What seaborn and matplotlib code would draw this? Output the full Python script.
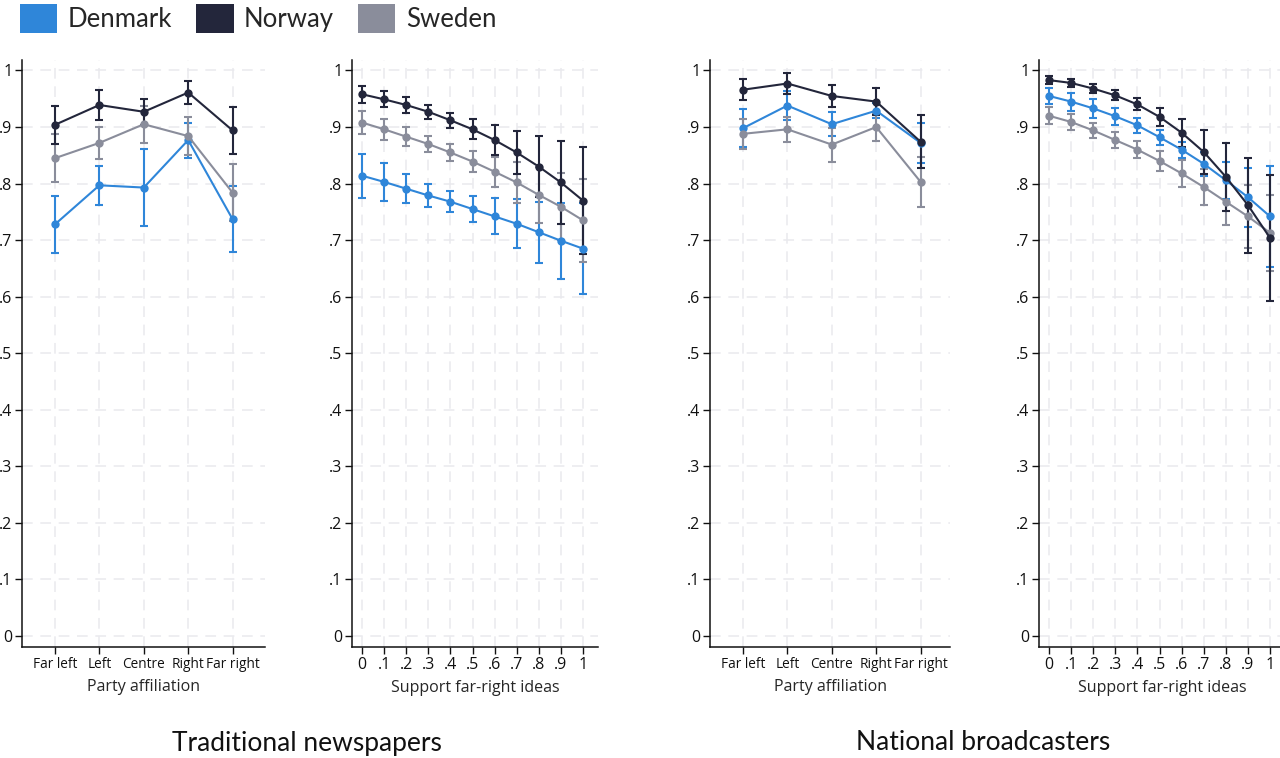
import numpy as np
import pandas as pd
import seaborn as sns
import matplotlib
matplotlib.use("Agg")
import matplotlib.pyplot as plt
from matplotlib.patches import Patch

sns.set_theme(style="white")
plt.rcParams['font.family'] = ['Open Sans', 'DejaVu Sans']

countries = ['Denmark', 'Norway', 'Sweden']
colors = {'Denmark': '#2f86d9', 'Norway': '#23263b', 'Sweden': '#8a8d9b'}

party_labels = ['Far left', 'Left', 'Centre', 'Right', 'Far right']
support_levels = [0, .1, .2, .3, .4, .5, .6, .7, .8, .9, 1]
support_labels = ['0', '.1', '.2', '.3', '.4', '.5', '.6', '.7', '.8', '.9', '1']
y_ticks = [0, .1, .2, .3, .4, .5, .6, .7, .8, .9, 1]
y_labels = ['0', '.1', '.2', '.3', '.4', '.5', '.6', '.7', '.8', '.9', '1']

# traditional newspapers, by party affiliation (mean, half-width of CI)
tn_party_den = [0.728, 0.797, 0.793, 0.877, 0.737]
tn_party_den_ci = [0.050, 0.035, 0.068, 0.031, 0.058]
tn_party_nor = [0.904, 0.939, 0.927, 0.961, 0.894]
tn_party_nor_ci = [0.034, 0.027, 0.023, 0.021, 0.042]
tn_party_swe = [0.845, 0.872, 0.905, 0.884, 0.784]
tn_party_swe_ci = [0.042, 0.028, 0.033, 0.033, 0.050]

# traditional newspapers, by support for far-right ideas
tn_far_den = [0.814, 0.803, 0.791, 0.779, 0.768, 0.755, 0.742, 0.729, 0.714, 0.699, 0.685]
tn_far_den_ci = [0.039, 0.033, 0.026, 0.020, 0.019, 0.023, 0.032, 0.043, 0.054, 0.067, 0.081]
tn_far_nor = [0.958, 0.949, 0.939, 0.927, 0.912, 0.896, 0.877, 0.855, 0.830, 0.802, 0.770]
tn_far_nor_ci = [0.015, 0.014, 0.0135, 0.012, 0.013, 0.018, 0.0265, 0.038, 0.0535, 0.073, 0.0945]
tn_far_swe = [0.908, 0.896, 0.883, 0.870, 0.855, 0.839, 0.821, 0.802, 0.780, 0.759, 0.735]
tn_far_swe_ci = [0.021, 0.0185, 0.0165, 0.015, 0.015, 0.019, 0.0265, 0.036, 0.050, 0.059, 0.0735]

# national broadcasters, by party affiliation
nb_party_den = [0.898, 0.938, 0.905, 0.929, 0.872]
nb_party_den_ci = [0.034, 0.025, 0.021, 0.013, 0.036]
nb_party_nor = [0.966, 0.977, 0.955, 0.945, 0.874]
nb_party_nor_ci = [0.019, 0.018, 0.019, 0.024, 0.047]
nb_party_swe = [0.888, 0.896, 0.869, 0.900, 0.803]
nb_party_swe_ci = [0.027, 0.022, 0.030, 0.024, 0.044]

# national broadcasters, by support for far-right ideas
nb_far_den = [0.955, 0.945, 0.933, 0.919, 0.903, 0.882, 0.860, 0.835, 0.806, 0.776, 0.742]
nb_far_den_ci = [0.0135, 0.016, 0.017, 0.0145, 0.0135, 0.013, 0.014, 0.021, 0.033, 0.052, 0.090]
nb_far_nor = [0.983, 0.978, 0.968, 0.956, 0.940, 0.918, 0.890, 0.856, 0.812, 0.762, 0.704]
nb_far_nor_ci = [0.0065, 0.007, 0.008, 0.009, 0.0105, 0.0155, 0.025, 0.039, 0.060, 0.084, 0.1115]
nb_far_swe = [0.920, 0.909, 0.894, 0.877, 0.860, 0.840, 0.818, 0.794, 0.768, 0.742, 0.713]
nb_far_swe_ci = [0.015, 0.014, 0.013, 0.0135, 0.015, 0.018, 0.024, 0.031, 0.0415, 0.055, 0.067]


def make_df(x, den, den_ci, nor, nor_ci, swe, swe_ci):
    rows = []
    for name, m, c in [('Denmark', den, den_ci), ('Norway', nor, nor_ci), ('Sweden', swe, swe_ci)]:
        for xi, mi, ci in zip(x, m, c):
            rows.append({'x': xi, 'value': mi, 'ci': ci, 'country': name})
    return pd.DataFrame(rows)


party_x = list(range(len(party_labels)))
panels = [
    (make_df(party_x, tn_party_den, tn_party_den_ci, tn_party_nor, tn_party_nor_ci,
             tn_party_swe, tn_party_swe_ci), 'party', (22, 265)),
    (make_df(support_levels, tn_far_den, tn_far_den_ci, tn_far_nor, tn_far_nor_ci,
             tn_far_swe, tn_far_swe_ci), 'far', (352, 598)),
    (make_df(party_x, nb_party_den, nb_party_den_ci, nb_party_nor, nb_party_nor_ci,
             nb_party_swe, nb_party_swe_ci), 'party', (710, 950)),
    (make_df(support_levels, nb_far_den, nb_far_den_ci, nb_far_nor, nb_far_nor_ci,
             nb_far_swe, nb_far_swe_ci), 'far', (1039, 1286)),
]

W, H = 1280, 758
fig = plt.figure(figsize=(12.8, 7.58), dpi=100)

top_px, bot_px = 60, 647
y1_px, y0_px = 70.5, 636
per_unit = y0_px - y1_px
draw_order = ['Denmark', 'Sweden', 'Norway']

for df, kind, (l, r) in panels:
    ax = fig.add_axes([l / W, 1 - bot_px / H, (r - l) / W, (bot_px - top_px) / H])
    ax.set_ylim(-(bot_px - y0_px) / per_unit, 1 + (y1_px - top_px) / per_unit)
    if kind == 'party':
        step = 44.4
        ax.set_xlim(-(33 / step), 4 + (r - l - 33 - 4 * step) / step)
        ax.set_xticks(party_x)
        ax.set_xticklabels(party_labels, fontsize=9.8)
        ax.set_xlabel('Party affiliation', fontsize=11.5, labelpad=5)
    else:
        step = 221
        ax.set_xlim(-10 / step, 1 + (r - l - 10 - step) / step)
        ax.set_xticks(support_levels)
        ax.set_xticklabels(support_labels, fontsize=11.5)
        ax.set_xlabel('Support far-right ideas', fontsize=11.5, labelpad=5)
    ax.set_yticks(y_ticks)
    ax.set_yticklabels(y_labels, fontsize=11.5)

    ax.grid(True, color='#e9e9ee', linestyle=(0, (7, 5)), linewidth=1.1)
    ax.set_axisbelow(True)

    for name in draw_order:
        sub = df[df['country'] == name]
        ax.errorbar(sub['x'], sub['value'], yerr=sub['ci'], fmt='none',
                    ecolor=colors[name], elinewidth=1.5, capsize=3, capthick=1.5, zorder=2)
        sns.lineplot(data=sub, x='x', y='value', color=colors[name], marker='o',
                     markersize=6, markeredgewidth=0, linewidth=1.5, ax=ax,
                     legend=False, zorder=3)
    ax.set_ylabel('')

    sns.despine(ax=ax)
    for s in ['left', 'bottom']:
        ax.spines[s].set_color('#111111')
        ax.spines[s].set_linewidth(1.1)
    ax.tick_params(axis='both', which='major', direction='out', length=5, width=1,
                   color='#111111', labelcolor='#111111', pad=2, left=True, bottom=True)

handles = [Patch(facecolor=colors[c], edgecolor='none', label=c) for c in countries]
fig.legend(handles=handles, loc='upper left', bbox_to_anchor=(0.0155, 0.995), ncol=3,
           frameon=False, handlelength=1.45, handleheight=1.4,
           handletextpad=0.4, columnspacing=0.95, borderpad=0, borderaxespad=0,
           prop={'family': ['Lato', 'DejaVu Sans'], 'size': 18.5})

fig.text(307 / W, 1 - 743 / H, 'Traditional newspapers', ha='center', va='center',
         fontsize=19, family=['Lato', 'DejaVu Sans'], color='#111111')
fig.text(983 / W, 1 - 743 / H, 'National broadcasters', ha='center', va='center',
         fontsize=19, family=['Lato', 'DejaVu Sans'], color='#111111')

fig.savefig('out.png', dpi=100)
